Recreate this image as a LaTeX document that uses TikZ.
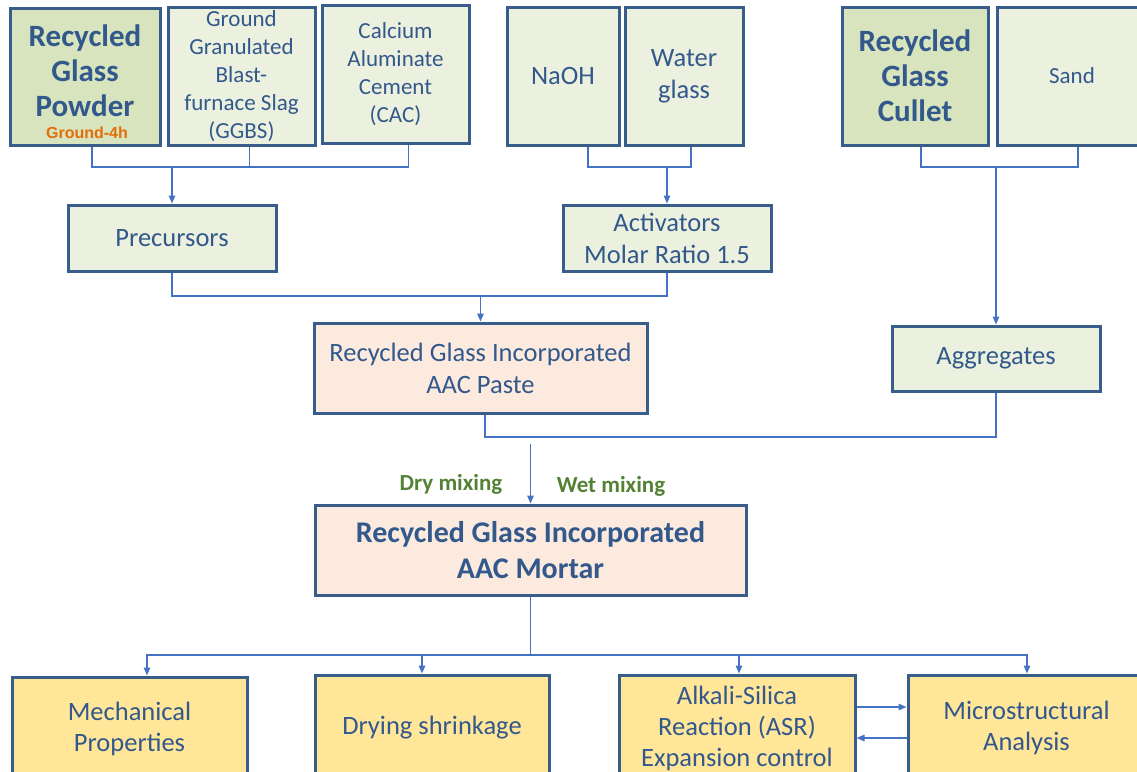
\documentclass[tikz,border=0pt]{standalone}
\usepackage{fontspec}
\setmainfont{Carlito}
\newfontfamily\arialfont{Liberation Sans}
\usetikzlibrary{arrows.meta,calc}

\definecolor{bordc}{RGB}{56,93,138}
\definecolor{linec}{RGB}{68,114,196}
\definecolor{textc}{RGB}{50,88,140}
\definecolor{lgreen}{RGB}{235,241,222}
\definecolor{dgreen}{RGB}{215,228,189}
\definecolor{lpink}{RGB}{252,234,222}
\definecolor{lyellow}{RGB}{255,230,153}
\definecolor{orangec}{RGB}{228,108,10}
\definecolor{greenc}{RGB}{84,130,53}

\tikzset{
  box/.style={draw=bordc,line width=3pt,text=textc,align=center,inner sep=2pt},
  ln/.style={draw=linec,line width=1.5pt},
  arr/.style={ln,-{Triangle[length=8pt,width=6.5pt]}},
  big/.style={font=\bfseries\fontsize{31}{35}\selectfont},
  mid/.style={font=\fontsize{26.5}{32}\selectfont},
  sml/.style={font=\fontsize{23}{28}\selectfont},
  low/.style={font=\fontsize{26.5}{31}\selectfont,fill=lyellow}
}

\begin{document}
\begin{tikzpicture}[x=1pt,y=-1pt]
\useasboundingbox (0,0) rectangle (1137,771);

% raw materials
\node[box,fill=dgreen,minimum width=150pt,minimum height=137pt] (rgp) at (85,76.5) {};
\node[big,text=textc,align=center,inner sep=0pt] (rgpt) at (85,71) {Recycled\\Glass\\Powder};
\node[text=orangec,font=\arialfont\bfseries\fontsize{16}{16}\selectfont,inner sep=0pt] (g4h) at (87,133) {Ground-4h};
\node[box,sml,fill=lgreen,minimum width=147pt,minimum height=138pt] (ggbs) at (241.5,76)
  {Ground\\Granulated\\Blast-\\furnace Slag\\(GGBS)};
\node[box,sml,fill=lgreen,minimum width=147pt,minimum height=138pt] (cac) at (395.5,74)
  {Calcium\\Aluminate\\Cement\\(CAC)};
\node[box,mid,fill=lgreen,minimum width=112pt,minimum height=138pt] (naoh) at (563,76) {NaOH};
\node[box,mid,fill=lgreen,minimum width=118pt,minimum height=138pt] (wg) at (684,76) {Water\\glass};
\node[box,big,fill=dgreen,minimum width=146pt,minimum height=138pt] (rgc) at (915,76)
  {Recycled\\Glass\\Cullet};
\node[box,sml,fill=lgreen,minimum width=150pt,minimum height=138pt] (sand) at (1072,76) {Sand};

% intermediate
\node[box,mid,fill=lgreen,minimum width=208pt,minimum height=66pt] (pre) at (172,238) {Precursors};
\node[box,mid,fill=lgreen,minimum width=208pt,minimum height=66pt] (act) at (667,238)
  {Activators\\Molar Ratio 1.5};
\node[box,mid,fill=lpink,minimum width=333pt,minimum height=90pt] (paste) at (480.5,368)
  {Recycled Glass Incorporated\\AAC Paste};
\node[box,mid,fill=lgreen,minimum width=208pt,minimum height=65pt] (agg) at (996,358.5) {Aggregates};
\node[box,font=\bfseries\fontsize{30}{36}\selectfont,fill=lpink,minimum width=431pt,minimum height=90pt] (mortar) at (530.5,550)
  {Recycled Glass Incorporated\\AAC Mortar};

% tests
\node[box,low,minimum width=235pt,minimum height=104pt] (mech) at (129.5,729)
  {Mechanical\\Properties};
\node[box,low,minimum width=234pt,minimum height=106pt] (dry) at (432,728)
  {Drying shrinkage};
\node[box,low,minimum width=236pt,minimum height=106pt] (asr) at (737,728)
  {Alkali-Silica\\Reaction (ASR)\\Expansion control};
\node[box,low,minimum width=237pt,minimum height=106pt] (micro) at (1026.5,728)
  {Microstructural\\Analysis};

\node[text=greenc,font=\bfseries\fontsize{23}{23}\selectfont] (drym) at (451,484) {Dry mixing};
\node[text=greenc,font=\bfseries\fontsize{23}{23}\selectfont] (wetm) at (611,486) {Wet mixing};

% connectors
\coordinate (j1) at (172,167);
\draw[ln] ([xshift=7pt]rgp.south) |- (j1) -| ([xshift=13pt]cac.south);
\draw[ln] ([xshift=8pt]ggbs.south) -- ([xshift=8pt]ggbs.south |- j1);
\draw[arr] (j1) -- (pre.north);

\coordinate (j2) at (667,167);
\draw[ln] ([xshift=25pt]naoh.south) |- (j2) -| ([xshift=7pt]wg.south);
\draw[arr] (j2) -- (act.north);

\coordinate (j3) at (996,167);
\draw[ln] ([xshift=6pt]rgc.south) |- (j3) -| ([xshift=6pt]sand.south);
\draw[arr] (j3) -- (agg.north);

\coordinate (j4) at (480.5,296);
\draw[ln] (pre.south) |- (j4) -| (act.south);
\draw[arr] (j4) -- (paste.north);

\coordinate (j5) at (485,437);
\draw[ln] ([xshift=4.5pt]paste.south) -- (j5) -| (agg.south);
\coordinate (m0) at (530.5,444);
\draw[arr] (m0) -- (mortar.north);

\coordinate (b) at (530.5,655);
\draw[ln] (mortar.south) -- (b);
\draw[arr] (b) -| ([xshift=17.5pt]mech.north);
\draw[arr] (b) -| ([xshift=-10pt]dry.north);
\draw[arr] (b) -| ([xshift=2pt]asr.north);
\draw[arr] (b) -| ([xshift=0.5pt]micro.north);

\draw[arr] ([yshift=21pt]asr.east) -- ([yshift=21pt]micro.west);
\draw[arr] ([yshift=-10pt]micro.west) -- ([yshift=-10pt]asr.east);

\end{tikzpicture}
\end{document}
